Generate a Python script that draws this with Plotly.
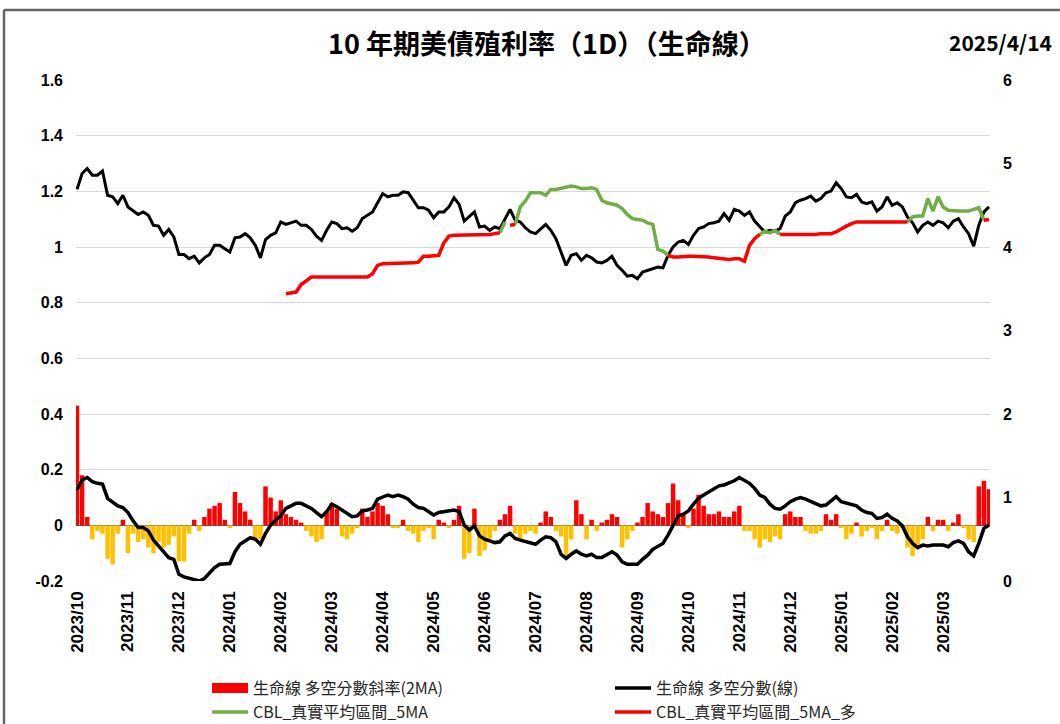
import plotly.graph_objects as go

# ---------------- data ----------------
month_labels = ["2023/10", "2023/11", "2023/12", "2024/01", "2024/02", "2024/03",
                "2024/04", "2024/05", "2024/06", "2024/07", "2024/08", "2024/09",
                "2024/10", "2024/11", "2024/12", "2025/01", "2025/02", "2025/03"]

left_tick_vals = [-0.2, 0, 0.2, 0.4, 0.6, 0.8, 1.0, 1.2, 1.4, 1.6]
left_tick_text = ["-0.2", "0", "0.2", "0.4", "0.6", "0.8", "1", "1.2", "1.4", "1.6"]

# 10Y US Treasury yield (right axis)
yield_10y = [
    4.69, 4.88, 4.94, 4.86, 4.86, 4.91, 4.62, 4.60, 4.52, 4.62,
    4.48, 4.44, 4.39, 4.42, 4.38, 4.26, 4.25, 4.14, 4.21, 4.12,
    3.91, 3.91, 3.86, 3.89, 3.81, 3.87, 3.91, 4.02, 4.02, 3.98,
    3.94, 4.11, 4.12, 4.16, 4.11, 4.02, 3.87, 4.09, 4.14, 4.17,
    4.30, 4.27, 4.29, 4.31, 4.26, 4.26, 4.21, 4.13, 4.08, 4.20,
    4.30, 4.28, 4.22, 4.23, 4.19, 4.23, 4.34, 4.38, 4.42, 4.53,
    4.64, 4.60, 4.62, 4.62, 4.66, 4.65, 4.56, 4.47, 4.47, 4.44,
    4.35, 4.42, 4.42, 4.48, 4.59, 4.51, 4.31, 4.36, 4.42, 4.24,
    4.25, 4.20, 4.24, 4.22, 4.34, 4.45, 4.32, 4.30, 4.23, 4.18,
    4.16, 4.22, 4.27, 4.20, 4.10, 3.94, 3.78, 3.90, 3.92, 3.84,
    3.90, 3.87, 3.82, 3.81, 3.84, 3.89, 3.78, 3.72, 3.65, 3.66,
    3.62, 3.70, 3.72, 3.74, 3.76, 3.75, 3.90, 4.00, 4.06, 4.08,
    4.03, 4.14, 4.22, 4.24, 4.28, 4.29, 4.31, 4.40, 4.32, 4.45,
    4.43, 4.38, 4.42, 4.31, 4.25, 4.18, 4.20, 4.19, 4.22, 4.37,
    4.42, 4.53, 4.56, 4.58, 4.61, 4.55, 4.58, 4.65, 4.67, 4.77,
    4.70, 4.60, 4.59, 4.63, 4.54, 4.52, 4.54, 4.43, 4.48, 4.60,
    4.50, 4.53, 4.48, 4.36, 4.29, 4.18, 4.26, 4.30, 4.26, 4.31,
    4.29, 4.23, 4.31, 4.34, 4.24, 4.16, 4.01, 4.26, 4.42, 4.48,
]

# 生命線 多空分數(線) (right axis)
score_line = [
    1.09, 1.21, 1.24, 1.19, 1.17, 1.16, 0.99, 0.95, 0.90, 0.88,
    0.82, 0.72, 0.64, 0.64, 0.60, 0.49, 0.42, 0.34, 0.28, 0.26,
    0.08, 0.05, 0.03, 0.01, 0.00, 0.03, 0.10, 0.16, 0.20, 0.21,
    0.21, 0.35, 0.44, 0.48, 0.52, 0.50, 0.44, 0.57, 0.67, 0.73,
    0.78, 0.87, 0.90, 0.93, 0.93, 0.90, 0.87, 0.82, 0.77, 0.83,
    0.92, 0.89, 0.85, 0.82, 0.77, 0.78, 0.84, 0.85, 0.87, 0.98,
    1.01, 1.03, 1.01, 1.03, 1.01, 0.98, 0.92, 0.88, 0.87, 0.83,
    0.79, 0.82, 0.83, 0.83, 0.85, 0.83, 0.67, 0.61, 0.66, 0.54,
    0.50, 0.48, 0.46, 0.47, 0.54, 0.57, 0.51, 0.49, 0.47, 0.45,
    0.44, 0.49, 0.53, 0.52, 0.47, 0.32, 0.27, 0.32, 0.36, 0.32,
    0.30, 0.32, 0.28, 0.28, 0.31, 0.35, 0.31, 0.23, 0.20, 0.20,
    0.20, 0.26, 0.31, 0.38, 0.42, 0.45, 0.55, 0.67, 0.78, 0.80,
    0.84, 0.92, 0.99, 1.03, 1.07, 1.10, 1.14, 1.15, 1.17, 1.20,
    1.24, 1.21, 1.17, 1.11, 1.03, 1.00, 0.92, 0.87, 0.86, 0.90,
    0.95, 0.98, 1.00, 0.98, 0.95, 0.92, 0.90, 0.91, 0.96, 1.01,
    0.95, 0.93, 0.92, 0.90, 0.85, 0.82, 0.81, 0.75, 0.76, 0.80,
    0.75, 0.72, 0.66, 0.53, 0.45, 0.40, 0.43, 0.42, 0.43, 0.43,
    0.43, 0.41, 0.46, 0.48, 0.45, 0.35, 0.30, 0.45, 0.63, 0.67,
]

# 生命線 多空分數斜率(2MA) (left axis)
slope_2ma = [
    0.43, 0.18, 0.03, -0.05, -0.02, -0.03, -0.12, -0.14, -0.03, 0.02,
    -0.10, -0.03, -0.06, -0.05, -0.08, -0.10, -0.06, -0.08, -0.07, -0.04,
    -0.13, -0.13, -0.03, 0.02, -0.02, 0.03, 0.06, 0.07, 0.08, 0.02,
    -0.01, 0.12, 0.08, 0.05, 0.02, -0.05, -0.05, 0.14, 0.10, 0.05,
    0.09, 0.04, 0.03, 0.02, 0.01, -0.02, -0.04, -0.06, -0.05, 0.05,
    0.08, 0.06, -0.04, -0.05, -0.03, -0.01, 0.06, 0.03, 0.05, 0.08,
    0.07, 0.04, -0.01, -0.01, 0.02, -0.02, -0.03, -0.06, -0.02, -0.01,
    -0.05, 0.02, 0.01, -0.01, 0.02, 0.07, -0.12, -0.10, 0.06, -0.11,
    -0.09, -0.05, -0.02, 0.02, 0.04, 0.07, -0.03, -0.05, -0.03, -0.02,
    -0.03, 0.01, 0.05, 0.03, -0.02, -0.04, -0.12, -0.05, 0.09, 0.04,
    -0.05, 0.02, -0.02, 0.01, 0.02, 0.04, 0.03, -0.08, -0.05, -0.02,
    0.01, 0.03, 0.08, 0.05, 0.04, 0.03, 0.08, 0.15, 0.09, 0.04,
    -0.01, 0.06, 0.11, 0.07, 0.04, 0.04, 0.05, 0.03, 0.03, 0.05,
    0.07, -0.02, -0.02, -0.05, -0.08, -0.05, -0.06, -0.04, -0.05, 0.04,
    0.05, 0.03, 0.03, -0.02, -0.03, -0.03, -0.02, 0.04, 0.02, 0.04,
    -0.01, -0.05, -0.03, 0.01, -0.04, -0.02, -0.01, -0.05, -0.02, 0.02,
    -0.02, -0.03, -0.01, -0.08, -0.11, -0.07, -0.05, 0.03, -0.02, 0.02,
    0.02, -0.02, 0.01, 0.04, -0.01, -0.05, -0.06, 0.14, 0.16, 0.13,
]

_ = None
# CBL_真實平均區間_5MA (green, right axis)
cbl_green = [
    _, _, _, _, _, _, _, _, _, _,
    _, _, _, _, _, _, _, _, _, _,
    _, _, _, _, _, _, _, _, _, _,
    _, _, _, _, _, _, _, _, _, _,
    _, _, _, _, _, _, _, _, _, _,
    _, _, _, _, _, _, _, _, _, _,
    _, _, _, _, _, _, _, _, _, _,
    _, _, _, _, _, _, _, _, _, _,
    _, _, _, 4.17, 4.30, _, 4.27, 4.48, 4.55, 4.65,
    4.65, 4.65, 4.62, 4.69, 4.69, 4.70, 4.71, 4.73, 4.72, 4.70,
    4.70, 4.71, 4.69, 4.56, 4.53, 4.52, 4.50, 4.46, 4.39, 4.34,
    4.33, 4.32, 4.29, 4.27, 3.97, 3.95, 3.90, _, _, _,
    _, _, _, _, _, _, _, _, _, _,
    _, _, _, _, 4.15, 4.19, 4.17, 4.20, 4.15, _,
    _, _, _, _, _, _, _, _, _, _,
    _, _, _, _, _, _, _, _, _, _,
    _, _, _, 4.30, 4.36, 4.37, 4.37, 4.58, 4.43, 4.60,
    4.48, 4.44, 4.43, 4.43, 4.43, 4.43, 4.45, 4.47, 4.32, _,
]

# CBL_真實平均區間_5MA_多 (red, right axis)
cbl_red = [
    _, _, _, _, _, _, _, _, _, _,
    _, _, _, _, _, _, _, _, _, _,
    _, _, _, _, _, _, _, _, _, _,
    _, _, _, _, _, _, _, _, _, _,
    _, 3.44, 3.45, 3.46, 3.55, 3.60, 3.64, 3.64, 3.64, 3.64,
    3.64, 3.64, 3.64, 3.64, 3.64, 3.65, 3.65, 3.64, 3.68, 3.78,
    3.80, 3.80, 3.81, 3.81, 3.81, 3.81, 3.81, 3.82, 3.89, 3.89,
    3.89, 3.90, 4.05, 4.13, 4.14, 4.14, 4.14, 4.14, 4.14, 4.14,
    4.15, 4.15, 4.16, 4.17, _, 4.26, 4.27, _, _, _,
    _, _, _, _, _, _, _, _, _, _,
    _, _, _, _, _, _, _, _, _, _,
    _, _, _, _, _, _, 3.90, 3.88, 3.88, 3.89,
    3.89, 3.89, 3.89, 3.89, 3.88, 3.87, 3.86, 3.85, 3.85, 3.86,
    3.86, 3.83, 4.02, 4.10, 4.15, _, _, _, 4.15, 4.15,
    4.15, 4.14, 4.14, 4.15, 4.15, 4.15, 4.16, 4.16, 4.16, 4.18,
    4.22, 4.25, 4.28, 4.30, 4.30, 4.30, 4.29, 4.29, 4.29, 4.29,
    4.29, 4.30, 4.30, 4.30, _, _, _, _, _, _,
    _, _, _, _, _, _, _, _, 4.32, 4.33,
]

title_text = "10 年期美債殖利率（1D）（生命線）"
date_text = "2025/4/14"
bar_name = "生命線 多空分數斜率(2MA)"

# ---------------- layout geometry ----------------
W, H = 1060, 724
ML, MR, MT, MB = 76, 70, 80, 143
PW, PH = W - ML - MR, H - MT - MB


def px(xp):
    return (xp - ML) / PW


def py(yp):
    return (H - MB - yp) / PH


N = len(yield_10y)
x = list(range(N))

CJK = "Noto Sans CJK TC"
LAT = "Liberation Sans"
RED, GOLD, GREEN = "#FF0000", "#FFC000", "#70AD47"

fig = go.Figure()
fig.add_trace(go.Bar(
    x=x, y=[v if v >= 0 else None for v in slope_2ma],
    name=bar_name, showlegend=False, legendgroup="bars",
    marker=dict(color=RED, line_width=0), yaxis="y", hoverinfo="skip"))
fig.add_trace(go.Bar(
    x=x, y=[v if v < 0 else None for v in slope_2ma],
    name="neg", showlegend=False, legendgroup="bars",
    marker=dict(color=GOLD, line_width=0), yaxis="y", hoverinfo="skip"))
# legend key for the bar series (wide red block like the reference)
fig.add_trace(go.Scatter(
    x=[None], y=[None], mode="lines", name=bar_name, legendgroup="bars",
    line=dict(color=RED, width=10), yaxis="y", legend="legend",
    hoverinfo="skip"))
fig.add_trace(go.Scatter(
    x=x, y=yield_10y, mode="lines", name="10Y", showlegend=False,
    line=dict(color="#000000", width=3), yaxis="y2"))
fig.add_trace(go.Scatter(
    x=x, y=score_line, mode="lines", name="生命線 多空分數(線)",
    line=dict(color="#000000", width=3.5), yaxis="y2", legend="legend"))
fig.add_trace(go.Scatter(
    x=x, y=cbl_green, mode="lines", name="CBL_真實平均區間_5MA",
    line=dict(color=GREEN, width=3.5), yaxis="y2", connectgaps=False,
    legend="legend2"))
fig.add_trace(go.Scatter(
    x=x, y=cbl_red, mode="lines", name="CBL_真實平均區間_5MA_多",
    line=dict(color=RED, width=3.5), yaxis="y2", connectgaps=False,
    legend="legend2"))

tickfont = dict(family=LAT, size=16, color="#000000", weight="bold")
legend_font = dict(family=CJK, size=16, color="#262626")

fig.update_layout(
    width=W, height=H,
    margin=dict(l=ML, r=MR, t=MT, b=MB, autoexpand=False),
    paper_bgcolor="white", plot_bgcolor="white",
    barmode="overlay", bargap=0.12,
    xaxis=dict(
        range=[-0.2, N - 1 + 0.2], tickmode="array",
        tickvals=list(range(0, N, 10)), ticktext=month_labels,
        tickangle=-90, tickfont=dict(family=LAT, size=17, color="#000000", weight="bold"),
        showgrid=False, zeroline=False, showline=False, ticks="",
        ticklabelstandoff=6),
    yaxis=dict(
        range=[-0.2, 1.6], tickmode="array", tickvals=left_tick_vals,
        ticktext=left_tick_text, tickfont=tickfont,
        showgrid=True, gridcolor="#D9D9D9", gridwidth=1,
        zeroline=True, zerolinecolor="#595959", zerolinewidth=1,
        showline=False, ticks="", ticklabelstandoff=12),
    yaxis2=dict(
        range=[0, 6], dtick=1, overlaying="y", side="right",
        tickfont=tickfont, showgrid=False, zeroline=False, showline=False,
        ticks="", ticklabelstandoff=12),
    legend=dict(
        orientation="h", x=px(207), y=py(688), xanchor="left", yanchor="middle",
        font=legend_font, entrywidth=352, itemwidth=36,
        bgcolor="rgba(0,0,0,0)", traceorder="normal"),
    legend2=dict(
        orientation="h", x=px(207), y=py(712), xanchor="left", yanchor="middle",
        font=legend_font, entrywidth=352, itemwidth=36,
        bgcolor="rgba(0,0,0,0)", traceorder="normal"),
    showlegend=True,
    annotations=[
        dict(text=title_text, x=px(547), y=py(42), xref="paper", yref="paper",
             xanchor="center", yanchor="middle", showarrow=False,
             font=dict(family=CJK, size=27, color="#000000", weight="bold")),
        dict(text=date_text, x=px(1054), y=py(42), xref="paper", yref="paper",
             xanchor="right", yanchor="middle", showarrow=False,
             font=dict(family=CJK, size=21, color="#000000", weight="bold")),
    ],
    shapes=[
        dict(type="line", xref="paper", yref="paper", x0=px(4), x1=px(1064),
             y0=py(10), y1=py(10), line=dict(color="#666666", width=2.5)),
        dict(type="line", xref="paper", yref="paper", x0=px(4), x1=px(4),
             y0=py(10), y1=py(730), line=dict(color="#666666", width=2.5)),
    ],
)

fig.write_html(
    "out.html",
    config={"displayModeBar": False},
    post_script="document.body.style.margin='0';document.body.style.padding='0';",
)
